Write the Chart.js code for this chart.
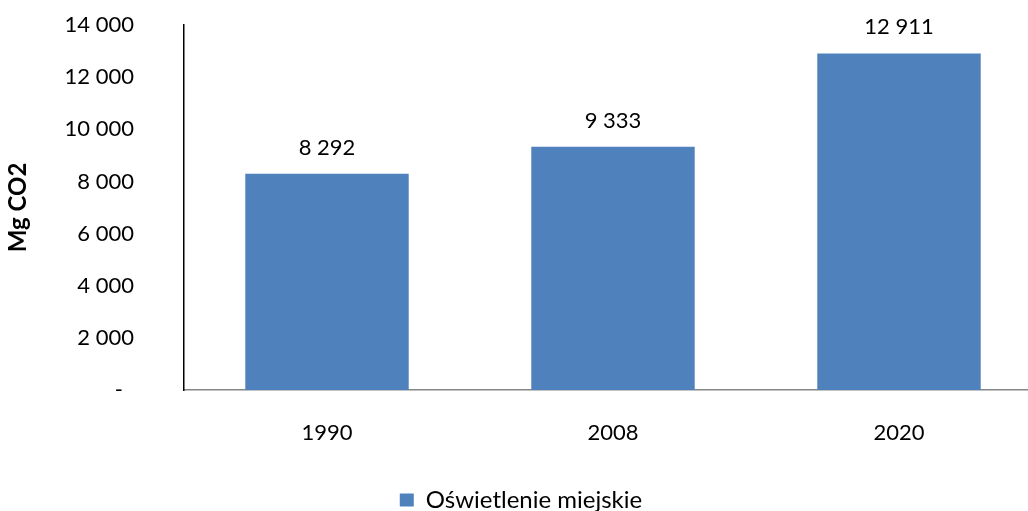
<!DOCTYPE html>
<html>
<head>
<meta charset="utf-8">
<script src="https://cdn.jsdelivr.net/npm/chart.js@4"></script>
<style>
  html, body { margin: 0; padding: 0; background: #fff; overflow: hidden; }
  #wrap { position: absolute; left: 0; top: 0; width: 1050px; height: 511px; }
</style>
</head>
<body>
<div id="wrap"><canvas id="c"></canvas></div>
<script>
// Emissions from street lighting, Mg CO2
const categories = ['1990', '2008', '2020'];
const seriesName = 'Oświetlenie miejskie';
const values = [8292, 9333, 12911];
const yMin = 0;
const yMax = 14000;
const yStep = 2000;
const axisTitle = 'Mg CO2';

const FONT = 'Lato, "Open Sans", sans-serif';
const BAR_COLOR = '#4F81BD';

function fmt(v) {
  return String(Math.round(v)).replace(/\B(?=(\d{3})+(?!\d))/g, ' ');
}

// Value labels above each bar
const valueLabels = {
  id: 'valueLabels',
  afterDatasetsDraw(chart) {
    const ctx = chart.ctx;
    ctx.save();
    ctx.font = '22px ' + FONT;
    ctx.fillStyle = '#000';
    ctx.textAlign = 'center';
    ctx.textBaseline = 'alphabetic';
    chart.getDatasetMeta(0).data.forEach((bar, i) => {
      ctx.fillText(fmt(chart.data.datasets[0].data[i]), bar.x, bar.y - 19);
    });
    ctx.restore();
  }
};

new Chart(document.getElementById('c'), {
  type: 'bar',
  data: {
    labels: categories,
    datasets: [{
      label: seriesName,
      data: values,
      backgroundColor: BAR_COLOR,
      borderWidth: 0,
      categoryPercentage: 1,
      barPercentage: 0.5714
    }]
  },
  options: {
    responsive: true,
    maintainAspectRatio: false,
    devicePixelRatio: 1,
    animation: false,
    layout: { padding: { left: 0, right: 8, top: 25, bottom: -11 } },
    plugins: {
      tooltip: { enabled: false },
      legend: {
        position: 'bottom',
        labels: {
          color: '#000',
          font: { family: FONT, size: 24, lineHeight: 1 },
          boxWidth: 14,
          boxHeight: 13,
          padding: 1
        }
      }
    },
    scales: {
      x: {
        grid: { display: false, drawTicks: false },
        border: { display: true, color: '#868686', width: 1.5 },
        ticks: { color: '#000', font: { family: FONT, size: 22 }, padding: 30 },
        afterFit(scale) { scale.height = 97; }
      },
      y: {
        min: yMin,
        max: yMax,
        grid: { display: false, drawTicks: false },
        border: { display: true, color: '#000', width: 1.5 },
        ticks: {
          stepSize: yStep,
          color: '#000',
          font: { family: FONT, size: 22 },
          padding: 50,
          callback: (v) => (v === 0 ? '-\u2002' : fmt(v))
        },
        title: {
          display: true,
          text: axisTitle,
          color: '#000',
          font: { family: FONT, size: 24, weight: 'bold' },
          padding: { top: 4, bottom: 0 }
        },
        afterFit(scale) {
          scale.width = 184;
          // the wide label gap should not push the plot area down
          scale.paddingTop = 13;
          scale.paddingBottom = 13;
        }
      }
    }
  },
  plugins: [valueLabels]
});
</script>
</body>
</html>
